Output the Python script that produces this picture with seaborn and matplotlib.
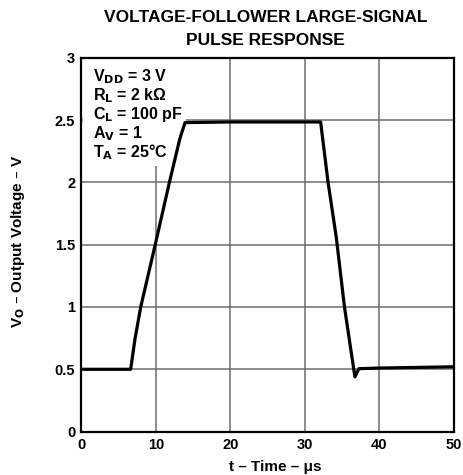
import matplotlib
matplotlib.use('Agg')
import matplotlib.pyplot as plt
from matplotlib.patches import Rectangle
import seaborn as sns
import pandas as pd

# curve (t in us, Vo in V)
t = [0, 3, 6.6, 7.2, 7.95, 9.9, 11.8, 13.2, 13.9, 20, 28, 32.1, 33.1, 34.2, 35.3, 36.0, 36.7, 37.25, 40, 45, 50]
vo = [0.5, 0.5, 0.5, 0.75, 1.0, 1.5, 2.0, 2.35, 2.48, 2.485, 2.485, 2.485, 2.0, 1.56, 1.0, 0.72, 0.44, 0.505, 0.51, 0.515, 0.52]
xticks = [0, 10, 20, 30, 40, 50]
yticks = [0, 0.5, 1, 1.5, 2, 2.5, 3]
ytick_labels = ['0', '0.5', '1', '1.5', '2', '2.5', '3']
conditions = ['V$_\\mathregular{\\bf DD}$ = 3 V',
              'R$_\\mathregular{\\bf L}$ = 2 kΩ',
              'C$_\\mathregular{\\bf L}$ = 100 pF',
              'A$_\\mathregular{\\bf V}$ = 1',
              'T$_\\mathregular{\\bf A}$ = 25°C']
title_lines = ['VOLTAGE-FOLLOWER LARGE-SIGNAL', 'PULSE RESPONSE']

df = pd.DataFrame({'t': t, 'vo': vo})

sns.set_style('white')
plt.rcParams['font.family'] = ['Liberation Sans', 'DejaVu Sans']
plt.rcParams['font.weight'] = 'bold'
plt.rcParams['text.color'] = 'black'
plt.rcParams['axes.labelcolor'] = 'black'
plt.rcParams['xtick.labelcolor'] = 'black'
plt.rcParams['ytick.labelcolor'] = 'black'

fig = plt.figure(figsize=(4.64, 4.75), dpi=100)
ax = fig.add_axes([0.1756, 0.0914, 0.8028, 0.7869])
sns.lineplot(data=df, x='t', y='vo', ax=ax, color='black', linewidth=2.3, sort=False, zorder=3)

ax.set_xlim(0, 50)
ax.set_ylim(0, 3)
ax.set_xticks(xticks)
ax.set_yticks(yticks)
ax.set_yticklabels(ytick_labels)
ax.grid(True, color='#6e6e6e', linewidth=1.1)
for s in ax.spines.values():
    s.set_color('black')
    s.set_linewidth(1.6)
    s.set_zorder(4)
ax.tick_params(labelsize=10.5, direction='out', length=3.5, color='#777777',
               labelcolor='black', pad=1)
for lab in ax.get_xticklabels() + ax.get_yticklabels():
    lab.set_fontweight('bold')

ax.set_xlabel('t – Time – μs', fontsize=11, fontweight='bold', color='black')
ax.xaxis.set_label_coords(0.52, -0.075)
ax.set_ylabel('V$_\\mathregular{\\bf O}$ – Output Voltage – V', fontsize=11, fontweight='bold', color='black')
ax.yaxis.set_label_coords(-0.145, 0.51)

fig.text(0.573, 0.9543, title_lines[0], fontsize=12.5, fontweight='bold', ha='center', va='baseline')
fig.text(0.573, 0.9053, title_lines[1], fontsize=12.5, fontweight='bold', ha='center', va='baseline')

# white panel behind the test conditions (hides the grid there)
ax.add_patch(Rectangle((0.004, 0.71), 0.276, 0.286, transform=ax.transAxes,
                       facecolor='white', edgecolor='none', zorder=2))
for i, line in enumerate(conditions):
    ax.text(0.0315, 0.936 - i * 0.0503, line, transform=ax.transAxes, fontsize=11.5,
            fontweight='bold', va='baseline', ha='left', zorder=3)

fig.savefig('out.png', dpi=100)
